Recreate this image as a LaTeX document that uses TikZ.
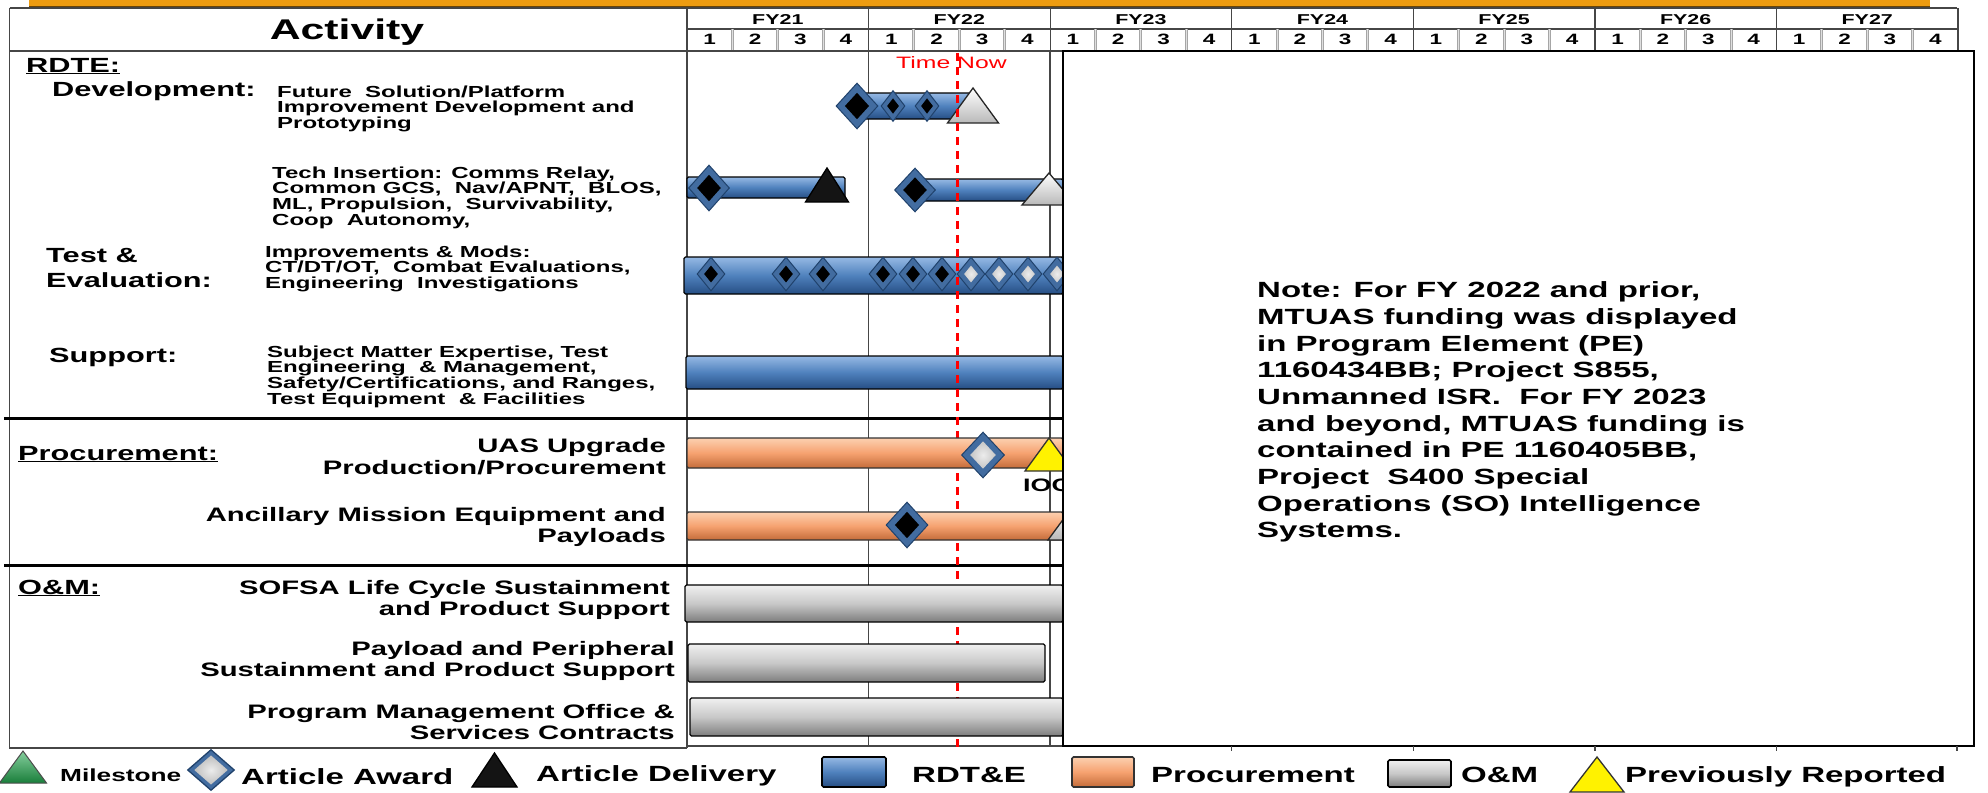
\documentclass[tikz,border=0pt]{standalone}
\usepackage{fontspec}
\setmainfont{Liberation Sans}[FakeStretch=1.5]
\usepackage{tikz}
\usetikzlibrary{calc,shapes.geometric}
\definecolor{rdblue}{RGB}{79,129,189}
\definecolor{rdbluehi}{RGB}{150,185,228}
\definecolor{rdbluelo}{RGB}{38,78,132}
\definecolor{prorange}{RGB}{246,162,112}
\definecolor{prorangehi}{RGB}{252,208,176}
\definecolor{prorangelo}{RGB}{196,108,58}
\definecolor{omgray}{RGB}{200,200,200}
\definecolor{omgrayhi}{RGB}{240,240,240}
\definecolor{omgraylo}{RGB}{125,125,125}
\definecolor{diablue}{RGB}{66,108,160}
\definecolor{diaedge}{RGB}{32,66,108}
\definecolor{hdrorange}{RGB}{238,156,16}
\definecolor{gridgray}{RGB}{70,70,70}
\definecolor{msgreen}{RGB}{34,168,78}
\tikzset{
	mkblk/.style={
		diamond, draw=diaedge, line width=1pt, fill=diablue, inner sep=0pt,
		path picture={
			\fill[black]
			($(path picture bounding box.center)!#1!(path picture bounding box.north)$) --
			($(path picture bounding box.center)!#1!(path picture bounding box.east)$) --
			($(path picture bounding box.center)!#1!(path picture bounding box.south)$) --
			($(path picture bounding box.center)!#1!(path picture bounding box.west)$) -- cycle;
		}
	},
	mkgry/.style={
		diamond, draw=diaedge, line width=1pt, fill=diablue, inner sep=0pt,
		path picture={
			\shade[inner color=gray!15, outer color=gray!65]
			($(path picture bounding box.center)!#1!(path picture bounding box.north)$) --
			($(path picture bounding box.center)!#1!(path picture bounding box.east)$) --
			($(path picture bounding box.center)!#1!(path picture bounding box.south)$) --
			($(path picture bounding box.center)!#1!(path picture bounding box.west)$) -- cycle;
		}
	},
	pics/tri/.style n args={3}{
		code={\draw[#1] (-#2/2,#3/2) -- (0,-#3/2) -- (#2/2,#3/2) -- cycle;}
	},
}

\begin{document}
\begin{tikzpicture}[x=1pt,y=-1pt,
		rdbar/.style={draw=black, line width=1.2pt, rounded corners=1.5pt, top color=rdbluehi, bottom color=rdbluelo, middle color=rdblue},
		prbar/.style={draw=black!80, line width=1.2pt, rounded corners=1.5pt, top color=prorangehi, bottom color=prorangelo, middle color=prorange},
		ombar/.style={draw=black, line width=1.2pt, rounded corners=1.5pt, top color=omgrayhi, bottom color=omgraylo, middle color=omgray},
		tgray/.style={draw=black!85, line width=1.3pt, top color=white, bottom color=gray!55},
		tblk/.style={draw=black, line width=1.3pt, fill=black!92},
		tyel/.style={draw=black!80, line width=1.3pt, fill=yellow},
		tgrn/.style={draw=black!70, line width=1pt, top color=msgreen!55!white, bottom color=msgreen!75!black},
		hdrline/.style={gridgray, line width=1.3pt},
		qsep/.style={draw=gray!70, line width=1pt, double=gray!25, double distance=1pt},
		gridline/.style={gridgray, line width=1.3pt},
		sepline/.style={black, line width=3pt},
		tnowline/.style={red, line width=3.3pt, dash pattern=on 8pt off 6pt},
		fylbl/.style={anchor=base, inner sep=0pt, font=\bfseries\fontsize{14.3}{16}\selectfont},
		qlbl/.style={anchor=base, inner sep=0pt, font=\bfseries\fontsize{15}{16}\selectfont},
		seclbl/.style={anchor=base west, inner sep=0pt, font=\bfseries\fontsize{20.5}{25}\selectfont},
		desc/.style={anchor=north west, align=left, inner sep=0pt, font=\bfseries\fontsize{16}{15.7}\selectfont},
		rowlbl/.style={anchor=north east, align=right, inner sep=0pt, font=\bfseries\fontsize{19.5}{21.5}\selectfont},
		notetxt/.style={anchor=north west, align=left, inner sep=0pt, font=\bfseries\fontsize{22}{26.7}\selectfont},
		legtxt/.style={anchor=base west, inner sep=0pt, font=\bfseries\fontsize{22}{24}\selectfont},
	]
	\useasboundingbox (0,0) rectangle (1988,792);
	
	% top band and header
	\fill[hdrorange] (29,0) rectangle (1930,7.5);
	\draw[hdrorange!45!black, line width=1.2pt] (29,6.8) -- (1930,6.8);
	\draw[hdrline] (9.5,8) -- (1957,8);
	\draw[hdrline] (687,29) -- (1957,29);
	\draw[hdrline, line width=1.8pt] (9.5,51) -- (1957,51);
	\foreach \i in {0,...,7}
		\draw[hdrline] ({687+\i*181.57},8) -- ({687+\i*181.57},51);
	\foreach \i in {0,...,6}
		\foreach \q in {1,2,3}
			\draw[qsep] ({687+\i*181.57+\q*45.39},29.5) -- ({687+\i*181.57+\q*45.39},50.5);
	\foreach \yr [count=\i from 0] in {21,...,27}{
		\node[fylbl] (fy\yr) at ({687+(\i+.5)*181.57},25) {FY\yr};
		\foreach \q in {1,...,4}
			\node[qlbl] (q\yr\q) at ({687+\i*181.57+(\q-.5)*45.39},45) {\q};
	}
	\node[anchor=base, inner sep=0pt, font=\bfseries\fontsize{28.5}{30}\selectfont] (act) at (347,40) {Activity};
	
	% table frame and grid
	\draw[hdrline, line width=1.8pt] (9.5,8) -- (9.5,748) -- (687,748);
	\draw[gridline] (687,8) -- (687,748);
	\draw[gridline] (868.6,51) -- (868.6,746);
	\draw[gridline] (1050.1,51) -- (1050.1,746);
	\draw[gridline] (687,746) -- (1063,746);
	\draw[sepline] (4,418) -- (1063,418);
	\draw[sepline] (4,565) -- (1063,565);
	
	% activity labels
	\node[seclbl] (rdte) at (26,72) {\underline{RDTE:}};
	\node[seclbl] (dev) at (52,96) {Development:};
	\node[desc] (devtxt) at (277,85.5) {Future\ \ Solution/Platform\\Improvement Development and\\Prototyping};
	\node[desc] (tech) at (272,166.5) {Tech Insertion: Comms Relay,\\Common GCS,\ \ Nav/APNT,\ \ BLOS,\\ML, Propulsion,\ \ Survivability,\\Coop\ \ Autonomy,};
	\node[seclbl, anchor=north west, align=left] (te) at (46,248) {Test \&\\Evaluation:};
	\node[desc] (imp) at (265,245.5) {Improvements \& Mods:\\CT/DT/OT,\ \ Combat Evaluations,\\Engineering\ \ Investigations};
	\node[seclbl] (sup) at (49,362) {Support:};
	\node[desc] (suptxt) at (267,345.5) {Subject Matter Expertise, Test\\Engineering\ \ \& Management,\\Safety/Certifications, and Ranges,\\Test Equipment\ \ \& Facilities};
	\node[seclbl] (proc) at (18,460) {\underline{Procurement:}};
	\node[rowlbl] (uas) at (666,438.5) {UAS Upgrade\\Production/Procurement};
	\node[rowlbl] (anc) at (666,507) {Ancillary Mission Equipment and\\Payloads};
	\node[seclbl] (om) at (18,594) {\underline{O\&M:}};
	\node[rowlbl] (sofsa) at (670,580) {SOFSA Life Cycle Sustainment\\and Product Support};
	\node[rowlbl] (payl) at (675,641) {Payload and Peripheral\\Sustainment and Product Support};
	\node[rowlbl] (pmo) at (675,704) {Program Management Office \&\\Services Contracts};
	
	% RDTE bars
	\draw[rdbar] (857,93) rectangle (975,119);
	\node[mkblk=.58, minimum width=42, minimum height=46] (dv1) at (857,106) {};
	\node[mkblk=.5, minimum width=24, minimum height=31] (dv2) at (893,106) {};
	\node[mkblk=.5, minimum width=24, minimum height=31] (dv3) at (927,106) {};
	\pic at (973,105.5) {tri={tgray}{51}{35}};
	
	\draw[rdbar] (687,177) rectangle (845,198);
	\node[mkblk=.58, minimum width=41, minimum height=46] (ti1) at (709,188) {};
	\pic at (827,185) {tri={tblk}{43}{34}};
	\draw[rdbar] (915,179) rectangle (1063,201);
	\node[mkblk=.58, minimum width=41, minimum height=44] (ti2) at (915,190) {};
	\pic at (1049,189) {tri={tgray}{54}{32}};
	
	\draw[rdbar] (684,257) rectangle (1063,294);
	\foreach \x in {711,786,823,883,913,942}
		\node[mkblk=.5, minimum width=28, minimum height=34] (te\x) at (\x,274) {};
	\foreach \x in {971,999,1028,1057}
		\node[mkgry=.5, minimum width=28, minimum height=34] (te\x) at (\x,274) {};
	
	\draw[rdbar] (686,356) rectangle (1063,389);
	
	% time now
	\node[anchor=base west, inner sep=0pt, text=red, font=\fontsize{16.5}{18}\selectfont] (tnow) at (896,68) {Time Now};
	\draw[tnowline] (957.5,53) -- (957.5,748);
	
	% procurement and O&M bars
	\draw[prbar] (687,438) rectangle (1063,468);
	\node[mkgry=.6, minimum width=43, minimum height=46] (ua1) at (983,455) {};
	\pic at (1049,454.5) {tri={tyel}{48}{33}};
	\node[anchor=base west, inner sep=0pt, font=\bfseries\fontsize{18}{20}\selectfont] (ioc) at (1023,491.5) {IOC};
	
	\draw[prbar] (687,512) rectangle (1063,540);
	\node[mkblk=.58, minimum width=42, minimum height=46] (an1) at (907,525) {};
	\pic at (1073,523) {tri={tgray}{50}{34}};
	
	\draw[ombar] (685,585) rectangle (1063,622);
	\draw[ombar] (688,644) rectangle (1045,682);
	\draw[ombar] (690,698) rectangle (1063,736);
	
	% note box
	\draw[black, line width=1.5pt, fill=white] (1063,51) rectangle (1974,746);
	\foreach \x in {1231.7,1413.3,1594.9,1776.4,1957}
		\draw[gridline] (\x,746) -- (\x,751);
	\node[notetxt] (note) at (1257,281.5) {Note: For FY 2022 and prior,\\MTUAS funding was displayed\\in Program Element (PE)\\1160434BB; Project S855,\\Unmanned ISR.\ \ For FY 2023\\and beyond, MTUAS funding is\\contained in PE 1160405BB,\\Project\ \ S400 Special\\Operations (SO) Intelligence\\Systems.};
	
	% legend
	\pic at (23,767) {tri={tgrn}{47}{32}};
	\node[legtxt, font=\bfseries\fontsize{17.5}{20}\selectfont] (lgms) at (60,781) {Milestone};
	\node[mkgry=.72, line width=1.3pt, minimum width=47, minimum height=41] (lgaw) at (211,770) {};
	\node[legtxt] (lgawt) at (241,784) {Article Award};
	\pic at (494.5,770) {tri={tblk}{45}{34}};
	\node[legtxt] (lgdl) at (536,781) {Article Delivery};
	\draw[rdbar, line width=1.6pt] (822,757) rectangle (886,787);
	\node[legtxt] (lgrd) at (912,782) {RDT\&E};
	\draw[prbar, line width=1.6pt] (1072,757) rectangle (1134,787);
	\node[legtxt] (lgpr) at (1151,782) {Procurement};
	\draw[ombar, line width=1.6pt] (1388,760) rectangle (1451,787);
	\node[legtxt] (lgom) at (1461,782) {O\&M};
	\pic at (1597,774.5) {tri={tyel}{54}{35}};
	\node[legtxt] (lgpv) at (1625,782) {Previously Reported};
\end{tikzpicture}
\end{document}
